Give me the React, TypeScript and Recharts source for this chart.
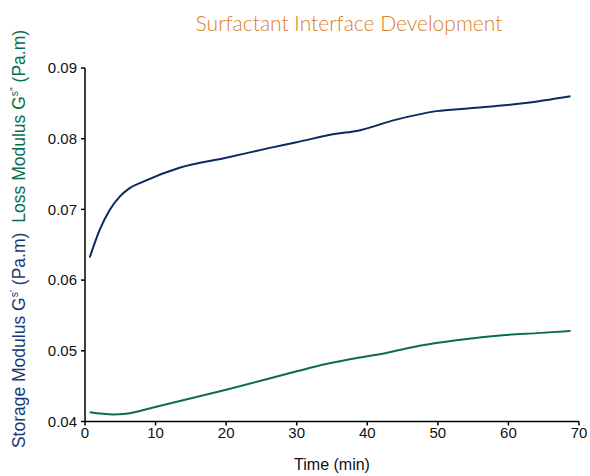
import React from "react";
import { LineChart, Line, XAxis, YAxis, Label } from "recharts";

const storageTime = [0.67, 2.08, 3.5, 4.92, 6.33, 8.18, 13.4, 20, 26.2, 30, 35.6, 38.5, 44.1, 49.8, 54.5, 62.1, 68.8];
const storageValue = [0.0632, 0.0671, 0.0699, 0.0718, 0.073, 0.0739, 0.0759, 0.0773, 0.0787, 0.0795, 0.0807, 0.0811, 0.0827, 0.0839, 0.0843, 0.085, 0.086];

const lossTime = [0.67, 3.97, 5.8, 10.1, 20, 30, 34, 37.5, 42.7, 47.4, 52.6, 59.2, 64, 68.8];
const lossValue = [0.0413, 0.041, 0.0411, 0.0421, 0.0445, 0.0471, 0.0481, 0.0488, 0.0497, 0.0507, 0.0515, 0.0522, 0.0525, 0.0528];

const xTicks = [0, 10, 20, 30, 40, 50, 60, 70];
const yTicks = [0.04, 0.05, 0.06, 0.07, 0.08, 0.09];

const storageData = storageTime.map((t, i) => ({ t, v: storageValue[i] }));
const lossData = lossTime.map((t, i) => ({ t, v: lossValue[i] }));

const NAVY = "#0c2a5f";
const GREEN = "#0a6e4a";
const ORANGE = "#d9802a";
const FONT = "'Liberation Sans', Arial, sans-serif";

const YLabel = () => (
  <text
    transform="rotate(-90)"
    x={-239}
    y={25}
    textAnchor="middle"
    fontFamily={FONT}
    fontSize={17.5}
  >
    <tspan fill="#1b3a72">Storage Modulus G</tspan>
    <tspan fill="#1b3a72" fontSize={10.5} dy={-7}>s'</tspan>
    <tspan fill="#1b3a72" dy={7}> (Pa.m)</tspan>
    <tspan fill={GREEN} dx={10}>Loss Modulus G</tspan>
    <tspan fill={GREEN} fontSize={10.5} dy={-7}>s"</tspan>
    <tspan fill={GREEN} dy={7}> (Pa.m)</tspan>
  </text>
);

export default function App() {
  return (
    <div style={{ position: "absolute", left: 0, top: 0, width: 590, height: 476, background: "#fff" }}>
      <div
        style={{
          position: "absolute",
          left: 0,
          top: 10,
          width: 590,
          paddingLeft: 108,
          boxSizing: "border-box",
          textAlign: "center",
          color: ORANGE,
          fontFamily: "Lato, 'DejaVu Sans', sans-serif",
          fontWeight: 300,
          fontSize: 21,
        }}
      >
        Surfactant Interface Development
      </div>
      <LineChart
        width={590}
        height={476}
        margin={{ top: 68, right: 11, bottom: 24.5, left: 0 }}
        style={{ position: "absolute", left: 0, top: 0 }}
      >
        <XAxis
          dataKey="t"
          type="number"
          domain={[0, 70]}
          ticks={xTicks}
          allowDataOverflow
          height={30}
          stroke="#000"
          strokeWidth={1.5}
          tickSize={4}
          tick={{ fill: "#111", fontSize: 15, fontFamily: FONT }}
          tickMargin={2}
        >
          <Label
            value="Time (min)"
            position="insideBottom"
            offset={-18}
            style={{ fill: "#111", fontSize: 16, fontFamily: FONT }}
          />
        </XAxis>
        <YAxis
          yAxisId="left"
          type="number"
          domain={[0.04, 0.09]}
          ticks={yTicks}
          width={85}
          stroke="#000"
          strokeWidth={1.5}
          tickSize={4}
          tickMargin={4}
          tickFormatter={(v: number) => v.toFixed(2)}
          tick={{ fill: "#111", fontSize: 15, fontFamily: FONT }}
          label={{ content: () => <YLabel /> }}
        />
        <YAxis
          yAxisId="right"
          orientation="right"
          type="number"
          domain={[0.04, 0.09]}
          width={0}
          stroke="#000"
          strokeWidth={1.5}
          tick={false}
          tickLine={false}
        />
        <Line
          yAxisId="left"
          data={storageData}
          dataKey="v"
          type="monotone"
          stroke={NAVY}
          strokeWidth={2}
          dot={false}
          isAnimationActive={false}
        />
        <Line
          yAxisId="left"
          data={lossData}
          dataKey="v"
          type="monotone"
          stroke={GREEN}
          strokeWidth={2}
          dot={false}
          isAnimationActive={false}
        />
      </LineChart>
    </div>
  );
}
